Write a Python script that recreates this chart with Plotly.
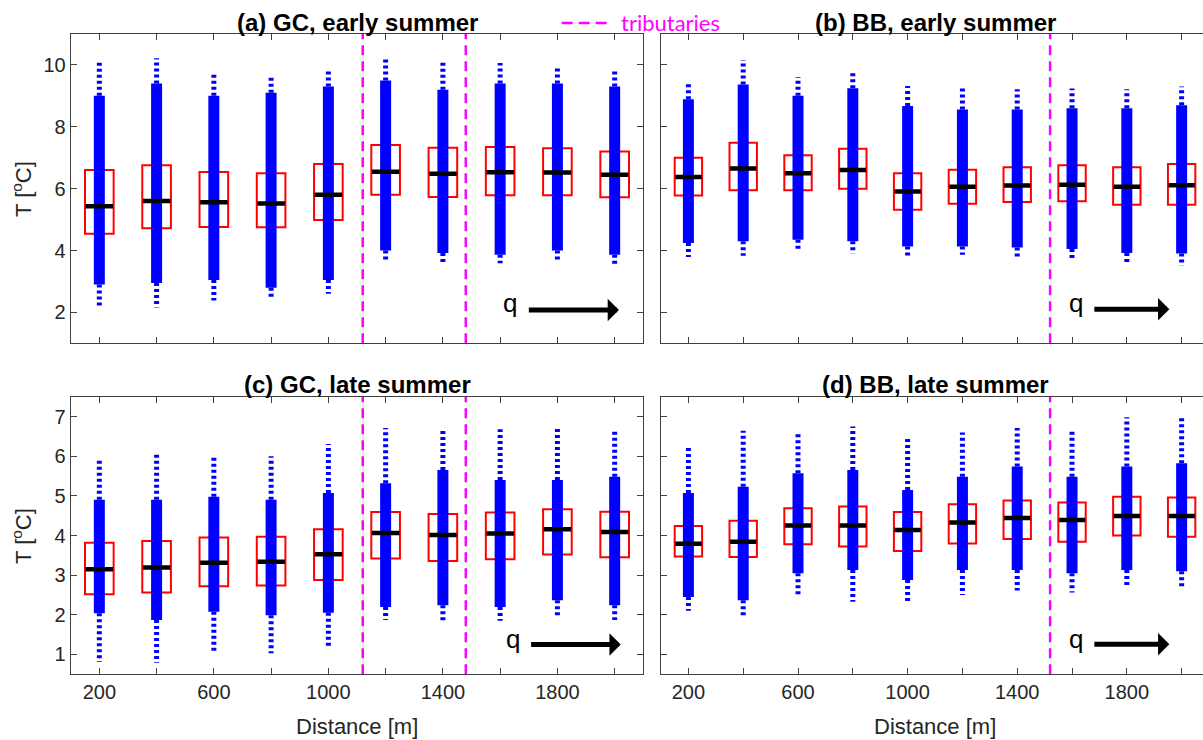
import plotly.graph_objects as go

# ---------------- data ----------------
dist = [200, 400, 600, 800, 1000, 1200, 1400, 1600, 1800, 2000]
tick_text = ["200", "", "600", "", "1000", "", "1400", "", "1800", ""]

trib_GC = [1120, 1480]
trib_BB = [1520]

# (a) GC, early summer
a_lo  = [2.15, 2.16, 2.38, 2.43, 2.60, 3.63, 3.54, 3.59, 3.68, 3.56]
a_clo = [2.90, 2.95, 3.05, 2.80, 3.05, 4.00, 3.92, 3.86, 4.00, 3.86]
a_chi = [9.00, 9.40, 9.00, 9.10, 9.30, 9.50, 9.20, 9.40, 9.40, 9.30]
a_hi  = [10.10, 10.22, 9.70, 9.59, 9.86, 10.24, 10.08, 10.06, 9.94, 9.85]
a_q1  = [4.54, 4.72, 4.76, 4.75, 4.99, 5.80, 5.73, 5.79, 5.79, 5.72]
a_med = [5.43, 5.60, 5.56, 5.52, 5.80, 6.55, 6.48, 6.53, 6.52, 6.45]
a_q3  = [6.60, 6.76, 6.54, 6.50, 6.80, 7.41, 7.32, 7.35, 7.31, 7.20]

# (b) BB, early summer
b_lo  = [3.79, 3.83, 3.97, 3.90, 3.83, 3.86, 3.81, 3.76, 3.54, 3.51]
b_clo = [4.24, 4.30, 4.35, 4.30, 4.13, 4.13, 4.10, 4.05, 3.92, 3.90]
b_chi = [8.89, 9.37, 9.00, 9.25, 8.67, 8.56, 8.56, 8.60, 8.60, 8.70]
b_hi  = [9.45, 10.16, 9.61, 9.77, 9.32, 9.24, 9.21, 9.24, 9.21, 9.30]
b_q1  = [5.78, 5.95, 5.95, 6.00, 5.32, 5.51, 5.57, 5.59, 5.48, 5.48]
b_med = [6.38, 6.65, 6.50, 6.60, 5.91, 6.06, 6.10, 6.13, 6.06, 6.11]
b_q3  = [7.00, 7.48, 7.08, 7.29, 6.50, 6.61, 6.69, 6.76, 6.69, 6.80]

# (c) GC, late summer
c_lo  = [0.81, 0.79, 1.06, 1.03, 1.18, 1.87, 1.84, 1.85, 1.97, 1.87]
c_clo = [2.04, 1.87, 2.08, 1.99, 2.05, 2.20, 2.24, 2.20, 2.37, 2.24]
c_chi = [4.90, 4.90, 4.98, 4.90, 5.07, 5.32, 5.65, 5.40, 5.40, 5.48]
c_hi  = [5.95, 6.10, 5.97, 6.00, 6.31, 6.71, 6.66, 6.68, 6.75, 6.68]
c_q1  = [2.52, 2.56, 2.72, 2.74, 2.88, 3.42, 3.36, 3.40, 3.52, 3.45]
c_med = [3.15, 3.19, 3.31, 3.34, 3.53, 4.06, 4.01, 4.05, 4.16, 4.09]
c_q3  = [3.82, 3.86, 3.95, 3.97, 4.16, 4.59, 4.54, 4.58, 4.66, 4.60]

# (d) BB, late summer
d_lo  = [2.10, 1.95, 2.50, 2.33, 2.31, 2.50, 2.61, 2.56, 2.72, 2.69]
d_clo = [2.45, 2.37, 3.05, 3.13, 2.88, 3.13, 3.13, 3.05, 3.13, 3.10]
d_chi = [5.07, 5.23, 5.57, 5.65, 5.15, 5.48, 5.74, 5.48, 5.74, 5.82]
d_hi  = [6.28, 6.64, 6.62, 6.75, 6.51, 6.60, 6.71, 6.68, 6.98, 7.00]
d_q1  = [3.47, 3.46, 3.78, 3.72, 3.61, 3.80, 3.91, 3.84, 4.00, 3.97]
d_med = [3.79, 3.84, 4.25, 4.25, 4.14, 4.33, 4.44, 4.39, 4.49, 4.49]
d_q3  = [4.24, 4.37, 4.69, 4.73, 4.59, 4.79, 4.88, 4.83, 4.98, 4.96]

# ---------------- styling ----------------
BLUE, RED, MAG = "#0000FF", "#FF0000", "#FF00FF"
AX = "#404040"
TXT = "#262626"
FONT = "Liberation Sans"
BOXW = 100      # box width in distance units
MEDW = 96       # median bar width in distance units

panels = [
    ("a", "x",  "y",  (a_lo, a_clo, a_chi, a_hi, a_q1, a_med, a_q3), trib_GC, [1, 11]),
    ("b", "x2", "y2", (b_lo, b_clo, b_chi, b_hi, b_q1, b_med, b_q3), trib_BB, [1, 11]),
    ("c", "x3", "y3", (c_lo, c_clo, c_chi, c_hi, c_q1, c_med, c_q3), trib_GC, [0.5, 7.5]),
    ("d", "x4", "y4", (d_lo, d_clo, d_chi, d_hi, d_q1, d_med, d_q3), trib_BB, [0.5, 7.5]),
]

fig = go.Figure()

for name, xa, ya, (lo, clo, chi, hi, q1, med, q3), tribs, yr in panels:
    # tributary lines
    tx, ty = [], []
    for t in tribs:
        tx += [t, t, None]
        ty += [yr[0], yr[1], None]
    fig.add_trace(go.Scatter(x=tx, y=ty, xaxis=xa, yaxis=ya, mode="lines",
                             line=dict(color=MAG, width=2.5, dash="10px,6px"),
                             hoverinfo="skip", showlegend=False))
    # dense core of the point cloud
    cx, cy = [], []
    for d, l, h in zip(dist, clo, chi):
        cx += [d, d, None]
        cy += [l, h, None]
    fig.add_trace(go.Scatter(x=cx, y=cy, xaxis=xa, yaxis=ya, mode="lines",
                             line=dict(color=BLUE, width=11),
                             hoverinfo="skip", showlegend=False))
    # sparse tails of the point cloud
    sx, sy = [], []
    for d, l, cl, ch, h in zip(dist, lo, clo, chi, hi):
        sx += [d, d, None, d, d, None]
        sy += [ch, h, None, cl, l, None]
    fig.add_trace(go.Scatter(x=sx, y=sy, xaxis=xa, yaxis=ya, mode="lines",
                             line=dict(color=BLUE, width=5, dash="3px,3px"),
                             hoverinfo="skip", showlegend=False))
    # boxes (25th-75th percentile)
    fig.add_trace(go.Box(x=dist, q1=q1, median=med, q3=q3, lowerfence=q1, upperfence=q3,
                         xaxis=xa, yaxis=ya, width=BOXW, whiskerwidth=0,
                         line=dict(color=RED, width=2), fillcolor="rgba(0,0,0,0)",
                         boxpoints=False, hoverinfo="skip", showlegend=False))
    # medians
    mx, my = [], []
    for d, m in zip(dist, med):
        mx += [d - MEDW / 2, d + MEDW / 2, None]
        my += [m, m, None]
    fig.add_trace(go.Scatter(x=mx, y=my, xaxis=xa, yaxis=ya, mode="lines",
                             line=dict(color="black", width=4.5),
                             hoverinfo="skip", showlegend=False))

W, H = 1203, 740
xl = [70.7 / W, 643.3 / W]
xr = [661 / W, 1.0]
yt = [1 - 343.3 / H, 1 - 34 / H]
yb = [1 - 674.3 / H, 1 - 396.7 / H]

def xaxis(domain, rng, anchor, labels, mirror):
    return dict(domain=domain, range=rng, anchor=anchor, tickvals=dist,
                ticktext=tick_text, showticklabels=labels, ticks="inside", ticklen=6,
                tickcolor=AX, showline=True, linecolor=AX, linewidth=1, mirror=mirror,
                showgrid=False, zeroline=False,
                tickfont=dict(family=FONT, size=20, color=TXT))

def yaxis(domain, rng, anchor, tv, labels, mirror):
    return dict(domain=domain, range=rng, anchor=anchor, tickvals=tv,
                showticklabels=labels, ticks="inside", ticklen=6, tickcolor=AX,
                showline=True, linecolor=AX, linewidth=1, mirror=mirror,
                showgrid=False, zeroline=False,
                tickfont=dict(family=FONT, size=20, color=TXT))

top_ticks = [2, 4, 6, 8, 10]
bot_ticks = [1, 2, 3, 4, 5, 6, 7]
right_rng = [100, 2078]

fig.update_layout(
    width=W, height=H, margin=dict(l=0, r=0, t=0, b=0),
    paper_bgcolor="white", plot_bgcolor="white",
    xaxis=xaxis(xl, [100, 2100], "y", False, "ticks"),
    yaxis=yaxis(yt, [1, 11], "x", top_ticks, True, "ticks"),
    xaxis2=xaxis(xr, right_rng, "y2", False, "ticks"),
    yaxis2=yaxis(yt, [1, 11], "x2", top_ticks, False, False),
    xaxis3=xaxis(xl, [100, 2100], "y3", True, "ticks"),
    yaxis3=yaxis(yb, [0.5, 7.5], "x3", bot_ticks, True, "ticks"),
    xaxis4=xaxis(xr, right_rng, "y4", True, "ticks"),
    yaxis4=yaxis(yb, [0.5, 7.5], "x4", bot_ticks, False, False),
)

ann = []
def title(text, xpx, ypx):
    ann.append(dict(text=text, x=xpx / W, y=1 - ypx / H, xref="paper", yref="paper",
                    showarrow=False, xanchor="center", yanchor="middle",
                    font=dict(family=FONT, size=24, color="black", weight="bold")))

title("(a) GC, early summer", 357, 22)
title("(b) BB, early summer", 935, 22)
title("(c) GC, late summer", 357, 384)
title("(d) BB, late summer", 935, 384)

for ypx in (189, 536):
    ann.append(dict(text="T [<sup>o</sup>C]", x=22 / W, y=1 - ypx / H, xref="paper",
                    yref="paper", showarrow=False, textangle=-90, xanchor="center",
                    yanchor="middle", font=dict(family=FONT, size=22, color=TXT)))
for xpx in (357, 935):
    ann.append(dict(text="Distance [m]", x=xpx / W, y=1 - 726 / H, xref="paper",
                    yref="paper", showarrow=False, xanchor="center", yanchor="middle",
                    font=dict(family=FONT, size=22, color=TXT)))

# flow direction arrows
arrows = [
    ("x", "y", 1633, 2.30, 1695, 2015, 2.08),
    ("x2", "y2", 1614, 2.30, 1676, 1955, 2.10),
    ("x3", "y3", 1644, 1.40, 1703, 2021, 1.25),
    ("x4", "y4", 1614, 1.40, 1676, 1955, 1.26),
]
for xa, ya, qx, qy, x0, x1, yy in arrows:
    ann.append(dict(text="q", x=qx, y=qy, xref=xa, yref=ya, showarrow=False,
                    xanchor="center", yanchor="middle",
                    font=dict(family=FONT, size=26, color="black")))
    ann.append(dict(text="", x=x1, y=yy, ax=x0, ay=yy, xref=xa, yref=ya,
                    axref=xa, ayref=ya, showarrow=True, arrowhead=1, arrowsize=0.75,
                    arrowwidth=5, arrowcolor="black", standoff=0))

# legend for tributaries
ann.append(dict(text="tributaries", x=619 / W, y=1 - 22 / H, xref="paper", yref="paper",
                showarrow=False, xanchor="left", yanchor="middle",
                font=dict(family="Lato", size=22, color=MAG)))
fig.update_layout(annotations=ann, shapes=[
    dict(type="line", xref="paper", yref="paper", x0=561.7 / W, x1=607 / W,
         y0=1 - 23 / H, y1=1 - 23 / H, line=dict(color=MAG, width=2.7, dash="11px,6px"))
])

fig.write_html("out.html")
